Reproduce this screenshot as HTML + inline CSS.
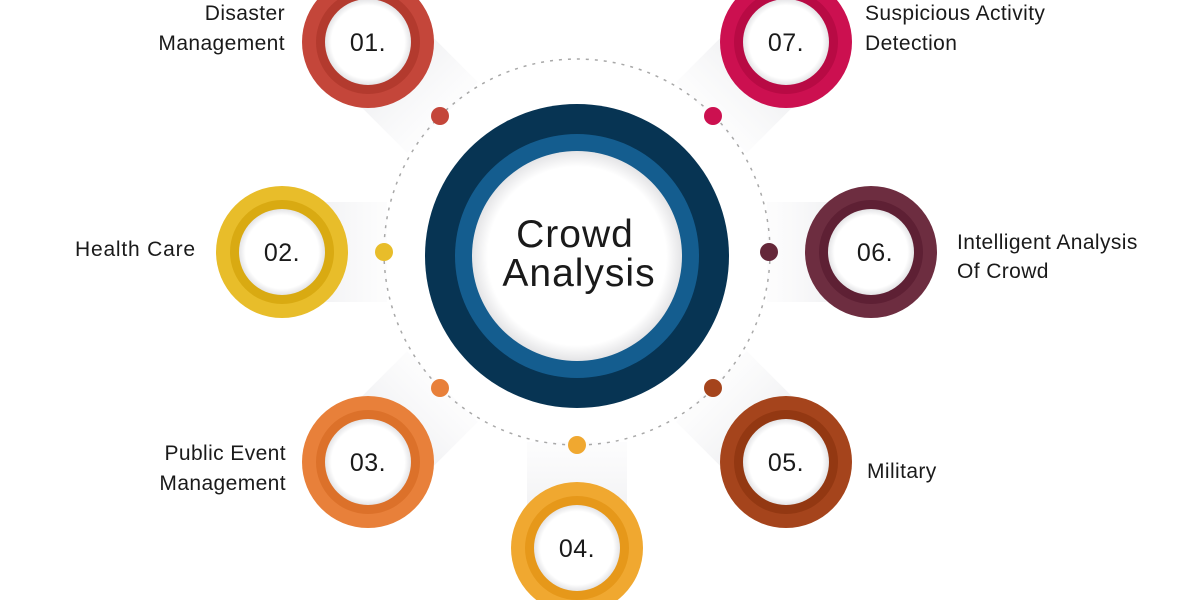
<!DOCTYPE html>
<html><head><meta charset="utf-8"><style>
html,body{margin:0;padding:0;background:#fff;}
svg{display:block;}
text{font-family:"Liberation Sans",sans-serif;fill:#1a1a1a;}
</style></head><body>
<svg width="1200" height="600" viewBox="0 0 1200 600" xmlns="http://www.w3.org/2000/svg">
<defs>
<linearGradient id="sh" x1="0" y1="0" x2="1" y2="0">
<stop offset="0" stop-color="#f3f3f5" stop-opacity="0.2"/>
<stop offset="1" stop-color="#e6e7ea"/>
</linearGradient>
<radialGradient id="wh" cx="0.5" cy="0.5" r="0.5">
<stop offset="0.85" stop-color="#ffffff"/>
<stop offset="1" stop-color="#e4e4e6"/>
</radialGradient>
</defs>
<rect width="1200" height="600" fill="#fff"/>

<g>
<g transform="translate(577,252) rotate(-135)"><rect x="190" y="-50" width="110" height="100" fill="url(#sh)"/></g>
<g transform="translate(577,252) rotate(180)"><rect x="190" y="-50" width="110" height="100" fill="url(#sh)"/></g>
<g transform="translate(577,252) rotate(135)"><rect x="190" y="-50" width="110" height="100" fill="url(#sh)"/></g>
<g transform="translate(577,252) rotate(90)"><rect x="190" y="-50" width="110" height="100" fill="url(#sh)"/></g>
<g transform="translate(577,252) rotate(45)"><rect x="190" y="-50" width="110" height="100" fill="url(#sh)"/></g>
<g transform="translate(577,252) rotate(0)"><rect x="190" y="-50" width="110" height="100" fill="url(#sh)"/></g>
<g transform="translate(577,252) rotate(-45)"><rect x="190" y="-50" width="110" height="100" fill="url(#sh)"/></g>
</g>

<circle cx="577" cy="252" r="193" fill="none" stroke="#a8a8a8" stroke-width="1.5" stroke-dasharray="3 6"/>

<circle cx="577" cy="256" r="152" fill="#073453"/>
<circle cx="577" cy="256" r="122" fill="#145d8f"/>
<circle cx="577" cy="256" r="105" fill="url(#wh)"/>
<text x="575" y="247" font-size="39" text-anchor="middle" letter-spacing="1">Crowd</text>
<text x="579" y="286" font-size="39" text-anchor="middle" letter-spacing="1">Analysis</text>

<circle cx="440" cy="116" r="9" fill="#c4463a"/>
<circle cx="713" cy="116" r="9" fill="#cc1050"/>
<circle cx="384" cy="252" r="9" fill="#e8bd2a"/>
<circle cx="769" cy="252" r="9" fill="#652739"/>
<circle cx="440" cy="388" r="9" fill="#e8803a"/>
<circle cx="713" cy="388" r="9" fill="#a5441c"/>
<circle cx="577" cy="445" r="9" fill="#f0a830"/>

<g font-size="25" letter-spacing="0.5">
<circle cx="368" cy="42" r="66" fill="#c4463a"/><circle cx="368" cy="42" r="52" fill="#b33a2e"/><circle cx="368" cy="42" r="43" fill="url(#wh)"/>
<text x="368" y="51" text-anchor="middle">01.</text>
<circle cx="282" cy="252" r="66" fill="#e8bd2a"/><circle cx="282" cy="252" r="52" fill="#d9aa12"/><circle cx="282" cy="252" r="43" fill="url(#wh)"/>
<text x="282" y="261" text-anchor="middle">02.</text>
<circle cx="368" cy="462" r="66" fill="#e8803a"/><circle cx="368" cy="462" r="52" fill="#dc712a"/><circle cx="368" cy="462" r="43" fill="url(#wh)"/>
<text x="368" y="471" text-anchor="middle">03.</text>
<circle cx="577" cy="548" r="66" fill="#f0a830"/><circle cx="577" cy="548" r="52" fill="#e6981a"/><circle cx="577" cy="548" r="43" fill="url(#wh)"/>
<text x="577" y="557" text-anchor="middle">04.</text>
<circle cx="786" cy="462" r="66" fill="#a5441c"/><circle cx="786" cy="462" r="52" fill="#933812"/><circle cx="786" cy="462" r="43" fill="url(#wh)"/>
<text x="786" y="471" text-anchor="middle">05.</text>
<circle cx="871" cy="252" r="66" fill="#6d2d40"/><circle cx="871" cy="252" r="52" fill="#5e2034"/><circle cx="871" cy="252" r="43" fill="url(#wh)"/>
<text x="875" y="261" text-anchor="middle">06.</text>
<circle cx="786" cy="42" r="66" fill="#cc1050"/><circle cx="786" cy="42" r="52" fill="#b80a44"/><circle cx="786" cy="42" r="43" fill="url(#wh)"/>
<text x="786" y="51" text-anchor="middle">07.</text>
</g>

<g font-size="21" letter-spacing="0.4">
<text x="285" y="20" text-anchor="end">Disaster</text>
<text x="285" y="50" text-anchor="end">Management</text>
<text x="75" y="256" letter-spacing="0.8">Health Care</text>
<text x="286" y="460" text-anchor="end">Public Event</text>
<text x="286" y="490" text-anchor="end">Management</text>
<text x="865" y="20">Suspicious Activity</text>
<text x="865" y="50">Detection</text>
<text x="957" y="249">Intelligent Analysis</text>
<text x="957" y="278">Of Crowd</text>
<text x="867" y="478">Military</text>
</g>
</svg>
</body></html>
